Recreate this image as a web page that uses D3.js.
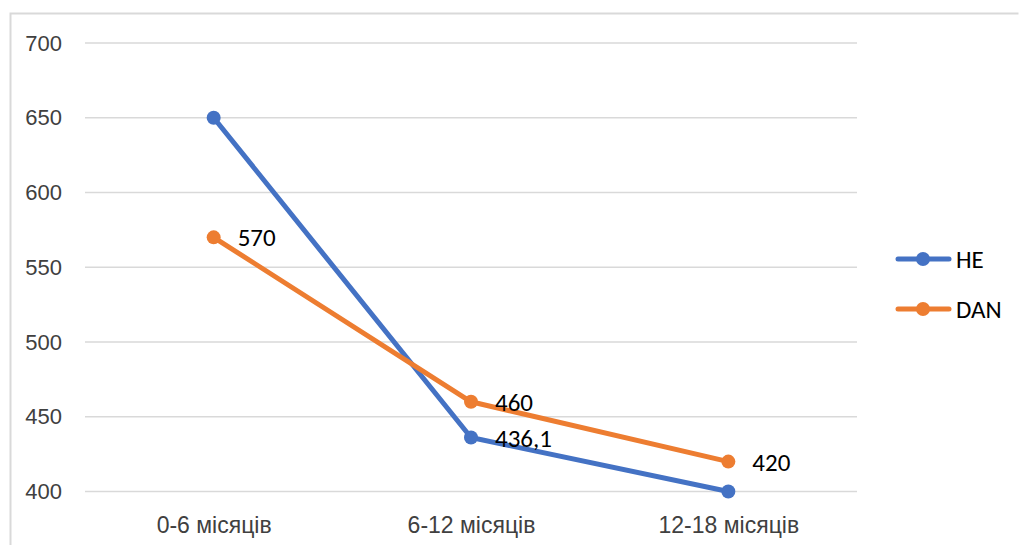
<!DOCTYPE html>
<html>
<head>
<meta charset="utf-8">
<script src="https://cdn.jsdelivr.net/npm/d3@7"></script>
<style>
  html, body { margin: 0; padding: 0; background: #fff; }
  svg { display: block; font-family: Carlito, Calibri, "Open Sans", "Noto Sans", sans-serif; }
</style>
</head>
<body>
<svg id="chart" width="1019" height="545"></svg>
<script>
// Categories and series values
const categories = ["0-6 місяців", "6-12 місяців", "12-18 місяців"];
const seriesNames = ["HE", "DAN"];
const heValues = [650, 436.1, 400];
const danValues = [570, 460, 420];
const yTicks = [400, 450, 500, 550, 600, 650, 700];
// Which points carry a value label (per series)
const heLabels = [null, "436,1", null];
const danLabels = ["570", "460", "420"];

const colors = { HE: "#4472C4", DAN: "#ED7D31" };

const svg = d3.select("#chart");

// Chart frame
svg.append("path")
  .attr("d", "M10.5,545 L10.5,13.5 L1018.5,13.5")
  .attr("fill", "none")
  .attr("stroke", "#d9d9d9")
  .attr("stroke-width", 2);

const plot = { left: 85, right: 857, top: 43, bottom: 491.5 };

const x = d3.scalePoint()
  .domain(categories)
  .range([plot.left, plot.right])
  .padding(0.5);

const y = d3.scaleLinear()
  .domain([400, 700])
  .range([plot.bottom, plot.top]);

// Horizontal gridlines
svg.append("g")
  .selectAll("line")
  .data(yTicks)
  .join("line")
  .attr("x1", plot.left)
  .attr("x2", plot.right)
  .attr("y1", d => y(d))
  .attr("y2", d => y(d))
  .attr("stroke", "#d9d9d9")
  .attr("stroke-width", 1.5);

// Y axis labels
const yAxis = d3.axisLeft(y).tickValues(yTicks).tickSize(0).tickPadding(0).tickFormat(d3.format("d"));
const yg = svg.append("g")
  .attr("transform", `translate(62,0)`)
  .call(yAxis);
yg.select(".domain").remove();
yg.selectAll("text")
  .attr("fill", "#404040")
  .style("font-size", "22px")
  .attr("font-family", null);

// X axis labels
const xAxis = d3.axisBottom(x).tickSize(0).tickPadding(0);
const xg = svg.append("g")
  .attr("transform", `translate(0,533)`)
  .call(xAxis);
xg.select(".domain").remove();
xg.selectAll("text")
  .attr("fill", "#404040")
  .attr("dy", null)
  .style("font-size", "23px")
  .attr("font-family", null);

const series = [
  { name: "HE", values: heValues, labels: heLabels },
  { name: "DAN", values: danValues, labels: danLabels }
];

const line = d3.line()
  .x((d, i) => x(categories[i]))
  .y(d => y(d));

series.forEach(s => {
  const g = svg.append("g");
  g.append("path")
    .datum(s.values)
    .attr("d", line)
    .attr("fill", "none")
    .attr("stroke", colors[s.name])
    .attr("stroke-width", 5)
    .attr("stroke-linejoin", "round")
    .attr("stroke-linecap", "round");
  g.selectAll("circle")
    .data(s.values)
    .join("circle")
    .attr("cx", (d, i) => x(categories[i]))
    .attr("cy", d => y(d))
    .attr("r", 7)
    .attr("fill", colors[s.name]);
});

// Value labels, placed to the right of each point
series.forEach(s => {
  svg.append("g")
    .selectAll("text")
    .data(s.values.map((v, i) => ({ v, i, t: s.labels[i] })).filter(d => d.t !== null))
    .join("text")
    .attr("x", d => x(categories[d.i]) + 24)
    .attr("y", d => y(d.v))
    .attr("dy", "0.36em")
    .attr("fill", "#000")
    .style("font-size", "25px")
    .text(d => d.t);
});

// Legend
const legend = svg.append("g");
seriesNames.forEach((name, k) => {
  const ly = 259 + k * 50;
  legend.append("line")
    .attr("x1", 898).attr("x2", 949)
    .attr("y1", ly).attr("y2", ly)
    .attr("stroke", colors[name])
    .attr("stroke-width", 5)
    .attr("stroke-linecap", "round");
  legend.append("circle")
    .attr("cx", 923).attr("cy", ly).attr("r", 7)
    .attr("fill", colors[name]);
  legend.append("text")
    .attr("x", 956).attr("y", ly)
    .attr("dy", "0.36em")
    .attr("fill", "#000")
    .style("font-size", "25px")
    .text(name);
});
</script>
</body>
</html>
